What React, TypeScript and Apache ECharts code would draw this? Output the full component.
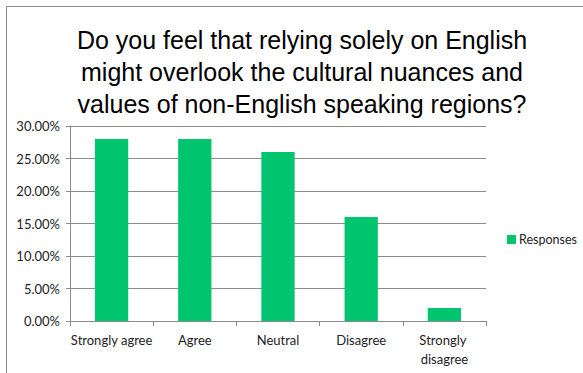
import React, { useEffect, useRef } from "react";
import * as echarts from "echarts";

const categories = ["Strongly agree", "Agree", "Neutral", "Disagree", "Strongly disagree"];
const responses = [0.28, 0.28, 0.26, 0.16, 0.02];
const seriesName = "Responses";
const titleText = "Do you feel that relying solely on English\nmight overlook the cultural nuances and\nvalues of non-English speaking regions?";

export default function App() {
  const ref = useRef<HTMLDivElement>(null);
  useEffect(() => {
    document.body.style.margin = "0";
    const chart = echarts.init(ref.current!, null, { renderer: "svg" });
    chart.setOption({
      animation: false,
      backgroundColor: "#ffffff",
      graphic: [
        {
          type: "rect",
          shape: { x: 6.5, y: 6.5, width: 640, height: 420 },
          style: { fill: "none", stroke: "#8c8c8c", lineWidth: 1 },
          z: -1,
        },
      ],
      title: {
        text: titleText,
        left: 297,
        textAlign: "center",
        top: 19,
        textStyle: {
          fontFamily: "Liberation Sans",
          fontSize: 25,
          fontWeight: "normal",
          color: "#000000",
          lineHeight: 32,
        },
      },
      legend: {
        data: [seriesName],
        left: 507,
        top: 233,
        padding: 0,
        itemWidth: 9,
        itemHeight: 9,
        itemGap: 4,
        icon: "rect",
        textStyle: { fontFamily: "Lato", fontSize: 12.5, color: "#222", padding: [0, 0, 0, -2] },
      },
      grid: { left: 70, right: 97, top: 126, bottom: 52 },
      xAxis: {
        type: "category",
        data: categories,
        axisLine: { lineStyle: { color: "#8c8c8c" } },
        axisTick: { show: true, length: 5, lineStyle: { color: "#8c8c8c" } },
        axisLabel: {
          interval: 0,
          fontFamily: "Lato",
          fontSize: 13,
          color: "#222",
          margin: 9,
          width: 90,
          overflow: "break",
          lineHeight: 19,
        },
      },
      yAxis: {
        type: "value",
        min: 0,
        max: 0.3,
        interval: 0.05,
        axisLine: { show: true, lineStyle: { color: "#8c8c8c" } },
        axisTick: { show: true, length: 4, lineStyle: { color: "#8c8c8c" } },
        splitLine: { lineStyle: { color: "#8c8c8c" } },
        axisLabel: {
          fontFamily: "Lato",
          fontSize: 13,
          color: "#222",
          margin: 10,
          formatter: (v: number) => (v * 100).toFixed(2) + "%",
        },
      },
      series: [
        {
          name: seriesName,
          type: "bar",
          data: responses,
          barWidth: "40%",
          itemStyle: { color: "#00C46E" },
        },
      ],
    });
    return () => chart.dispose();
  }, []);
  return <div ref={ref} style={{ width: 583, height: 373 }} />;
}
